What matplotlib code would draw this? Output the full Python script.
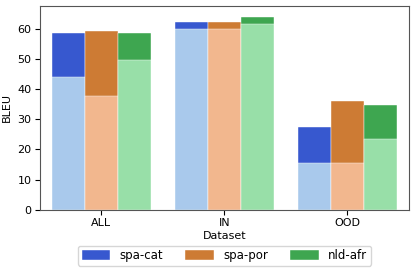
import numpy as np
import matplotlib.pyplot as plt

# data
datasets = ['ALL', 'IN', 'OOD']
pairs = ['spa-cat', 'spa-por', 'nld-afr']
# lower (light) part and full height (dark top) of each bar
base = {'spa-cat': [44.1, 59.8, 15.5],
        'spa-por': [37.6, 59.8, 15.5],
        'nld-afr': [49.6, 61.6, 23.5]}
total = {'spa-cat': [58.7, 62.2, 27.5],
         'spa-por': [59.1, 62.2, 36.0],
         'nld-afr': [58.7, 63.9, 34.6]}

dark = {'spa-cat': '#3758cf', 'spa-por': '#cd7b34', 'nld-afr': '#3ea650'}
light = {'spa-cat': '#a9c9ec', 'spa-por': '#f2b78e', 'nld-afr': '#98dfa8'}

fig = plt.figure(figsize=(4.16, 2.72), dpi=100)
ax = fig.add_axes([0.096, 0.229, 0.887, 0.749])

x = np.arange(len(datasets))
w = 0.8 / len(pairs)
for i, p in enumerate(pairs):
    pos = x - 0.4 + w / 2 + i * w
    ax.bar(pos, total[p], width=w, color=dark[p], label=p, edgecolor='white', linewidth=0.3)
    ax.bar(pos, base[p], width=w, color=light[p], edgecolor='white', linewidth=0.3)

ax.set_xlim(-0.5, 2.5)
ax.set_ylim(0, 67.5)
ax.set_xticks(x)
ax.set_xticklabels(datasets, fontsize=8)
ax.tick_params(axis='both', labelsize=8, pad=2.5)
ax.set_xlabel('Dataset', fontsize=8, labelpad=2)
ax.set_ylabel('BLEU', fontsize=8)
for s in ax.spines.values():
    s.set_color('#555555')

ax.legend(loc='upper center', bbox_to_anchor=(0.5, -0.148), ncol=3, fontsize=8.5,
          handlelength=2.4, handleheight=0.9, columnspacing=1.9, borderpad=0.3)

fig.savefig('out.png')
